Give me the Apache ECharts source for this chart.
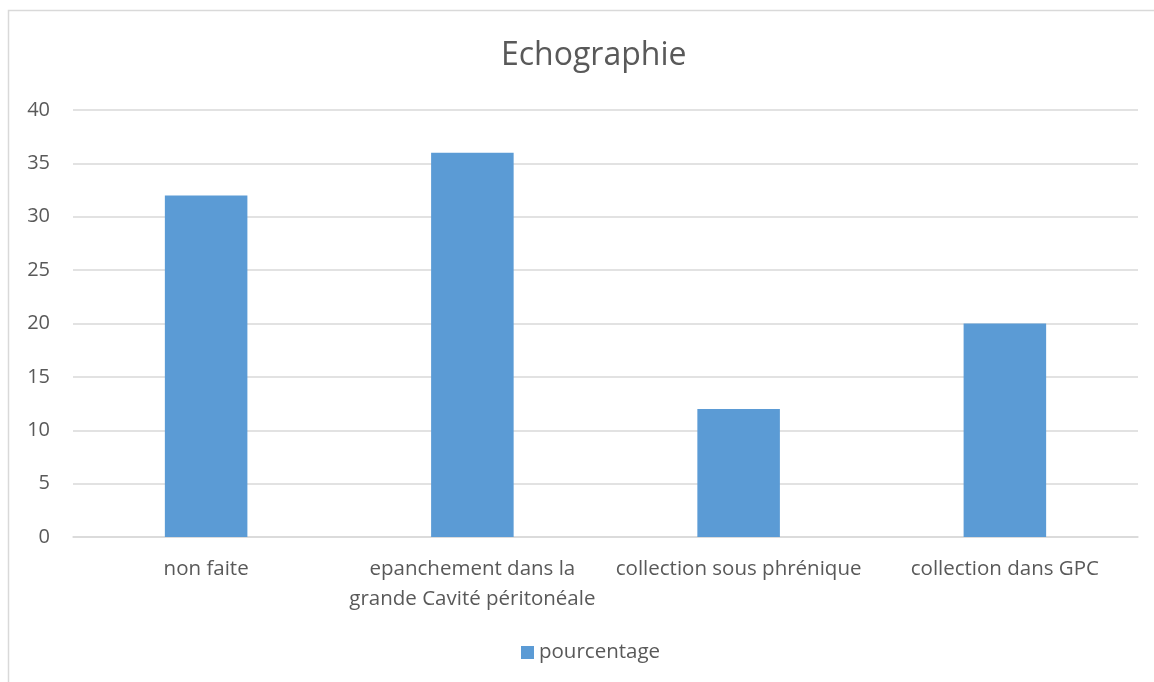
<!DOCTYPE html>
<html>
<head>
<meta charset="utf-8">
<script src="https://cdn.jsdelivr.net/npm/echarts@6/dist/echarts.min.js"></script>
<style>
  html, body { margin: 0; padding: 0; background: #fff; }
  #chart { width: 1154px; height: 682px; }
</style>
</head>
<body>
<div id="chart"></div>
<script>
// Echographie results by category (percent)
const categories = [
  'non faite',
  'epanchement dans la\ngrande Cavité péritonéale',
  'collection sous phrénique',
  'collection dans GPC'
];
const seriesName = 'pourcentage';
const values = [32, 36, 12, 20];
const yTicks = { min: 0, max: 40, interval: 5 };

const font = '"Open Sans", Lato, sans-serif';
const textColor = '#595959';

const chart = echarts.init(document.getElementById('chart'), null, { renderer: 'canvas' });
chart.setOption({
  backgroundColor: '#fff',
  animation: false,
  title: {
    text: 'Echographie',
    left: 496,
    top: 35,
    textStyle: { fontFamily: font, fontSize: 32, fontWeight: 'normal', color: textColor }
  },
  graphic: [{
    type: 'rect',
    shape: { x: 8.5, y: 10.5, width: 1170, height: 700 },
    style: { fill: 'none', stroke: '#d9d9d9', lineWidth: 1.5 },
    silent: true
  }],
  legend: {
    bottom: 14,
    left: 516,
    itemWidth: 13,
    itemHeight: 13,
    itemGap: 7,
    icon: 'rect',
    textStyle: { fontFamily: font, fontSize: 20.5, color: textColor },
    data: [seriesName]
  },
  grid: { left: 73, right: 16, top: 110, bottom: 145, containLabel: false },
  xAxis: {
    type: 'category',
    data: categories,
    axisLine: { show: true, lineStyle: { color: '#d9d9d9', width: 1.5 } },
    axisTick: { show: false },
    axisLabel: {
      fontFamily: font, fontSize: 20.5, color: textColor, margin: 17,
      lineHeight: 30, interval: 0
    }
  },
  yAxis: {
    type: 'value',
    min: yTicks.min, max: yTicks.max, interval: yTicks.interval,
    axisLine: { show: false },
    axisTick: { show: false },
    splitLine: { lineStyle: { color: '#d9d9d9', width: 1.5 } },
    axisLabel: { fontFamily: font, fontSize: 20, color: textColor, margin: 23 }
  },
  series: [{
    name: seriesName,
    type: 'bar',
    data: values,
    barWidth: '31%',
    itemStyle: { color: '#5b9bd5' }
  }]
});
</script>
</body>
</html>
